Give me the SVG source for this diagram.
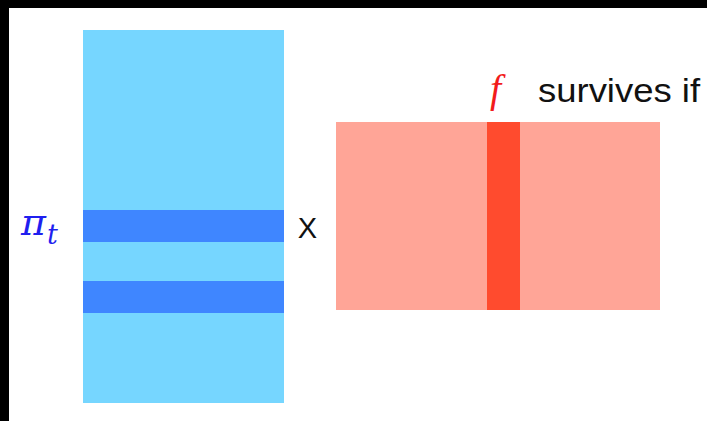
<svg xmlns="http://www.w3.org/2000/svg" width="707" height="421" viewBox="0 0 707 421">
<style>
.lb{fill:#76d6ff}
.db{fill:#3f86ff}
.lr{fill:#ffa597}
.dr{fill:#ff4b2e}
.sans{font-family:"Liberation Sans",Arial,sans-serif;fill:#111}
.math{font-family:"DejaVu Serif","Liberation Serif",serif;font-style:italic}
</style>
<rect x="0" y="0" width="707" height="421" fill="#ffffff"/>
<rect x="0" y="0" width="707" height="8" fill="#000"/>
<rect x="0" y="0" width="9" height="421" fill="#000"/>
<g id="pi-matrix">
<rect class="lb" x="83" y="30" width="201" height="373"/>
<rect class="db" x="83" y="210" width="201" height="32"/>
<rect class="db" x="83" y="281" width="201" height="32"/>
</g>
<g id="pi-label">
<text class="math" x="21" y="235" font-size="38" fill="#1f1fef">π<tspan font-size="27" dy="9" dx="1">t</tspan></text>
</g>
<g id="times">
<text class="sans" x="307.5" y="238" font-size="29" text-anchor="middle">X</text>
</g>
<g id="f-matrix">
<rect class="lr" x="336" y="122" width="324" height="188"/>
<rect class="dr" x="487" y="122" width="33" height="188"/>
</g>
<g id="f-label">
<text x="490" y="102" font-size="40" fill="#f21b1b" font-family="'Liberation Serif',serif" font-style="italic">f</text>
<text class="sans" x="538" y="102" font-size="34" textLength="162" lengthAdjust="spacingAndGlyphs">survives if</text>
</g>
<g id="connectors"></g>
</svg>
